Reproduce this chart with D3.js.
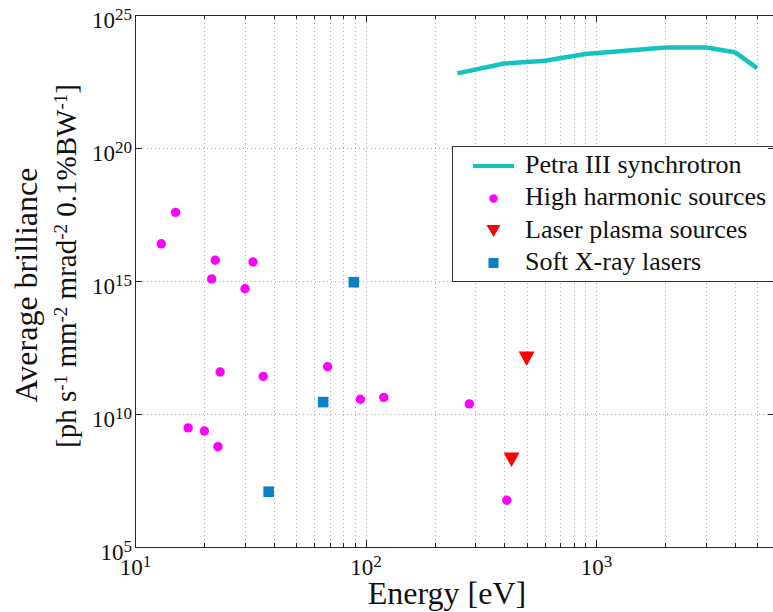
<!DOCTYPE html>
<html>
<head>
<meta charset="utf-8">
<script src="https://cdn.jsdelivr.net/npm/d3@7"></script>
<style>
  body { margin: 0; background: #fff; }
  svg { display: block; font-family: "Liberation Serif", "Times New Roman", serif; }
</style>
</head>
<body>
<svg id="chart" width="773" height="612"></svg>
<script>
// Petra III synchrotron average brilliance curve
const petraEnergy = [250, 400, 600, 900, 2000, 3000, 4000, 5000];
const petraBrilliance = [6.4e22, 1.5e23, 1.9e23, 3.4e23, 6.0e23, 6.0e23, 4.0e23, 1.0e23];

// High harmonic generation sources
const hhgEnergy = [15, 13, 22.3, 32.5, 21.5, 30, 23.4, 36, 68.5, 95, 120, 17, 20, 22.9, 282, 410];
const hhgBrilliance = [3.8e17, 2.5e16, 6e15, 5.2e15, 1.2e15, 5.1e14, 3.8e11, 2.6e11, 6e11, 3.6e10, 4.2e10, 3e9, 2.3e9, 5.9e8, 2.4e10, 5.7e6];

// Laser plasma sources
const lpsEnergy = [500, 430];
const lpsBrilliance = [1.2e12, 1.9e8];

// Soft X-ray lasers
const sxrlEnergy = [89, 65.5, 38];
const sxrlBrilliance = [9e14, 2.8e10, 1.2e7];

// Axis ticks and labels (labels are powers of ten)
const xMajorTicks = [10, 100, 1000];
const xTickExponents = ["1", "2", "3"];
const xMinorTicks = [20, 30, 40, 50, 60, 70, 80, 90, 200, 300, 400, 500, 600, 700, 800, 900, 2000, 3000, 4000, 5000, 6000];
const yMajorTicks = [1e5, 1e10, 1e15, 1e20, 1e25];
const yTickExponents = ["5", "10", "15", "20", "25"];

const legendLabels = ["Petra III synchrotron", "High harmonic sources", "Laser plasma sources", "Soft X-ray lasers"];
const xTitle = "Energy [eV]";

const colors = { petra: "#14c3be", hhg: "#ff00ff", lps: "#ff0000", sxrl: "#0a80c6" };

const svg = d3.select("#chart");
const plotLeft = 135, plotRight = 775.4, plotTop = 15, plotBottom = 547;

const x = d3.scaleLog().domain([10, 6000]).range([plotLeft, plotRight]);
const y = d3.scaleLog().domain([1e5, 1e25]).range([plotBottom, plotTop]);

// Grid (dotted)
const grid = svg.append("g").attr("stroke", "#b0b0b0").attr("stroke-width", 1).attr("stroke-dasharray", "1,3");
grid.selectAll("line.vx").data(xMajorTicks.concat(xMinorTicks)).join("line")
  .attr("x1", d => Math.round(x(d)) + 0.5).attr("x2", d => Math.round(x(d)) + 0.5)
  .attr("y1", plotTop).attr("y2", plotBottom);
grid.selectAll("line.hy").data(yMajorTicks.slice(1, -1)).join("line")
  .attr("y1", d => Math.round(y(d)) + 0.5).attr("y2", d => Math.round(y(d)) + 0.5)
  .attr("x1", plotLeft).attr("x2", plotRight);

// Petra III curve
const line = d3.line().x((d, i) => x(petraEnergy[i])).y(d => y(d));
svg.append("path").datum(petraBrilliance)
  .attr("d", line).attr("fill", "none")
  .attr("stroke", colors.petra).attr("stroke-width", 4.5)
  .attr("stroke-linejoin", "round");

// High harmonic sources
svg.append("g").selectAll("circle").data(hhgBrilliance).join("circle")
  .attr("cx", (d, i) => x(hhgEnergy[i])).attr("cy", d => y(d))
  .attr("r", 4.7).attr("fill", colors.hhg);

// Laser plasma sources (downward triangles)
const triDown = (w, h) => `M${-w / 2},${-h / 2}L${w / 2},${-h / 2}L0,${h / 2}Z`;
svg.append("g").selectAll("path").data(lpsBrilliance).join("path")
  .attr("transform", (d, i) => `translate(${x(lpsEnergy[i])},${y(d)})`)
  .attr("d", triDown(16, 14.5)).attr("fill", colors.lps);

// Soft X-ray lasers (squares)
const sq = 10.6;
svg.append("g").selectAll("rect").data(sxrlBrilliance).join("rect")
  .attr("x", (d, i) => x(sxrlEnergy[i]) - sq / 2).attr("y", d => y(d) - sq / 2)
  .attr("width", sq).attr("height", sq).attr("fill", colors.sxrl);

// Legend
const lg = svg.append("g");
lg.append("rect").attr("x", 452.5).attr("y", 146.5).attr("width", 400).attr("height", 135)
  .attr("fill", "#fff").attr("stroke", "#333").attr("stroke-width", 1);
const rowY = [166, 198.5, 231, 263];
lg.append("line").attr("x1", 473).attr("x2", 514).attr("y1", rowY[0]).attr("y2", rowY[0])
  .attr("stroke", colors.petra).attr("stroke-width", 4);
lg.append("circle").attr("cx", 493.5).attr("cy", rowY[1]).attr("r", 4.2).attr("fill", colors.hhg);
lg.append("path").attr("transform", `translate(493.5,${rowY[2]})`).attr("d", triDown(14, 12)).attr("fill", colors.lps);
lg.append("rect").attr("x", 493.5 - 5).attr("y", rowY[3] - 5).attr("width", 10).attr("height", 10).attr("fill", colors.sxrl);
lg.selectAll("text").data(legendLabels).join("text")
  .attr("x", 525).attr("y", (d, i) => rowY[i] + 6.5)
  .attr("font-size", 26).attr("fill", "#111").text(d => d);

// Axes (ticks point inward)
const axisColor = "#262626";
function styleAxis(g) {
  g.attr("font-family", null).attr("font-size", null);
  g.selectAll("path.domain").attr("stroke", axisColor).attr("shape-rendering", "crispEdges");
  g.selectAll(".tick line").attr("stroke", axisColor).attr("shape-rendering", "crispEdges");
}
const noLabel = () => "";

const xBottom = svg.append("g").attr("transform", `translate(0,${plotBottom})`)
  .call(d3.axisBottom(x).tickValues(xMajorTicks).tickSize(-7).tickSizeOuter(0).tickFormat(noLabel))
  .call(styleAxis);
svg.append("g").attr("transform", `translate(0,${plotBottom})`)
  .call(d3.axisBottom(x).tickValues(xMinorTicks).tickSize(-4).tickSizeOuter(0).tickFormat(noLabel))
  .call(styleAxis).call(g => g.select("path.domain").remove());
svg.append("g").attr("transform", `translate(0,${plotTop})`)
  .call(d3.axisTop(x).tickValues(xMajorTicks).tickSize(-7).tickSizeOuter(0).tickFormat(noLabel))
  .call(styleAxis);
svg.append("g").attr("transform", `translate(0,${plotTop})`)
  .call(d3.axisTop(x).tickValues(xMinorTicks).tickSize(-4).tickSizeOuter(0).tickFormat(noLabel))
  .call(styleAxis).call(g => g.select("path.domain").remove());
const yLeft = svg.append("g").attr("transform", `translate(${plotLeft},0)`)
  .call(d3.axisLeft(y).tickValues(yMajorTicks).tickSize(-7).tickSizeOuter(0).tickFormat(noLabel))
  .call(styleAxis);
svg.append("g").attr("transform", `translate(${plotRight},0)`)
  .call(d3.axisRight(y).tickValues(yMajorTicks).tickSize(-7).tickSizeOuter(0).tickFormat(noLabel))
  .call(styleAxis);

// Power-of-ten tick labels
function powerLabel(sel, exps, ticks) {
  sel.each(function (d) {
    const t = d3.select(this).text(null).attr("fill", "#111").style("font-size", "23px");
    t.append("tspan").text("10");
    t.append("tspan").style("font-size", "17px").attr("dy", -8).text(exps[ticks.indexOf(d)]);
  });
}
xBottom.selectAll(".tick text")
  .attr("y", 28).attr("dy", 0).attr("text-anchor", "middle")
  .call(powerLabel, xTickExponents, xMajorTicks);
yLeft.selectAll(".tick text")
  .attr("x", -3).attr("y", 12).attr("dy", 0).attr("text-anchor", "end")
  .call(powerLabel, yTickExponents, yMajorTicks);

// Axis titles
svg.append("text").attr("x", 447).attr("y", 604).attr("text-anchor", "middle")
  .attr("font-size", 32).attr("fill", "#111").text(xTitle);

svg.append("text").attr("transform", "translate(37,285) rotate(-90)")
  .attr("text-anchor", "middle").attr("font-size", 32).attr("fill", "#111")
  .text("Average brilliance");

const unitParts = [["[ph s", "-1"], [" mm", "-2"], [" mrad", "-2"], [" 0.1%BW", "-1"], ["]", null]];
const unit = svg.append("text").attr("transform", "translate(76,266) rotate(-90)")
  .attr("text-anchor", "middle").attr("font-size", 29).attr("fill", "#111");
unitParts.forEach(([base, sup], i) => {
  unit.append("tspan").attr("dy", i > 0 && unitParts[i - 1][1] ? 9 : 0).text(base);
  if (sup) unit.append("tspan").attr("font-size", 19).attr("dy", -9).text(sup);
});
</script>
</body>
</html>
